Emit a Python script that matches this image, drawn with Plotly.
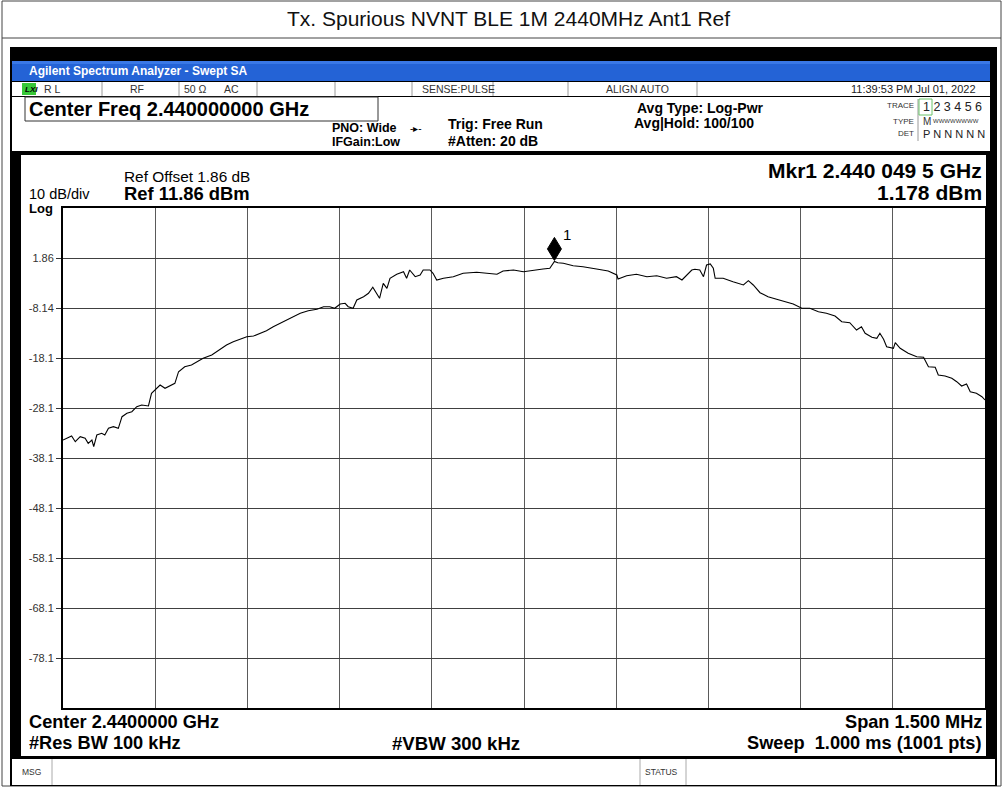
import plotly.graph_objects as go

W, H = 1003, 787

# ---------------- data ----------------
center_ghz = 2.44
span_khz = 1500.0
ref_level_dbm = 11.86
db_per_div = 10.0
n_div = 10

freq_offset_khz = [
    -750, -736, -730, -722, -714, -709, -703, -700, -695, -687,
    -682, -676, -668, -660, -654, -646, -638, -630, -622, -611,
    -606, -598, -592, -584, -576, -568, -562, -552, -541, -532,
    -522, -508, -495, -484, -473, -462, -451, -440, -430, -419,
    -408, -397, -386, -375, -364, -351, -337, -326, -316, -308,
    -299, -291, -286, -278, -272, -261, -253, -246, -240, -235,
    -229, -223, -218, -207, -196, -191, -186, -177, -169, -164,
    -153, -148, -142, -131, -115, -99, -77, -61, -44, -34,
    -17, -1, 15, 31, 42, 49.5, 55, 64, 80, 96,
    118, 137, 151, 153, 167, 183, 200, 216, 232, 248,
    257, 265, 273, 278, 286, 292, 297, 303, 308, 311,
    324, 340, 357, 365, 373, 384, 397, 411, 425, 438,
    452, 465, 479, 492, 506, 517, 530, 541, 549, 555,
    566, 574, 579, 585, 590, 601, 604, 612, 625, 639,
    650, 658, 669, 674, 685, 696, 704, 712, 720, 726,
    736, 745, 750,
]
level_dbm = [
    -34.54, -33.74, -34.88, -33.88, -34.20, -35.20, -34.54, -35.88, -33.54, -33.20,
    -33.54, -32.20, -31.88, -32.20, -29.88, -29.20, -28.88, -27.88, -27.54, -27.74,
    -25.20, -24.20, -23.54, -24.20, -23.74, -23.20, -20.88, -19.88, -19.54, -18.88,
    -18.20, -17.54, -16.54, -15.54, -14.88, -14.40, -13.88, -13.74, -13.20, -12.68,
    -11.88, -11.20, -10.40, -9.88, -9.20, -8.68, -8.40, -7.88, -7.88, -8.20,
    -7.34, -7.20, -7.88, -8.20, -6.54, -5.88, -5.20, -4.00, -5.20, -6.20,
    -3.20, -4.20, -2.20, -1.40, -0.88, -2.20, -0.54, -1.88, -1.54, -0.54,
    -0.54, -1.20, -2.54, -2.20, -1.88, -1.20, -1.00, -1.20, -1.40, -0.74,
    -0.54, -0.88, -0.54, -0.34, -0.20, 1.178, 0.90, 0.80, 0.32, 0.12,
    -0.34, -0.74, -1.54, -2.34, -1.68, -1.40, -1.88, -1.68, -2.20, -1.88,
    -2.54, -1.54, -0.54, -0.40, -0.54, -1.88, 0.46, 0.66, -0.20, -2.20,
    -2.20, -2.88, -3.54, -2.68, -3.54, -5.08, -5.88, -6.40, -6.88, -7.34,
    -8.20, -8.20, -8.88, -9.20, -9.74, -10.88, -11.08, -12.54, -11.88, -13.20,
    -14.00, -14.20, -13.20, -14.40, -15.88, -16.20, -15.08, -16.20, -17.20, -17.88,
    -18.00, -19.88, -20.00, -21.54, -21.74, -22.20, -22.88, -23.74, -23.34, -24.88,
    -25.20, -25.88, -26.54,
]

x_grid_khz = [-750, -600, -450, -300, -150, 0, 150, 300, 450, 600, 750]
y_tick_vals = [1.86, -8.14, -18.14, -28.14, -38.14, -48.14, -58.14, -68.14, -78.14]
y_tick_text = ["1.86", "-8.14", "-18.1", "-28.1", "-38.1", "-48.1", "-58.1", "-68.1", "-78.1"]

mkr_offset_khz = 49.5
mkr_level_dbm = 1.178

title_text = "Tx. Spurious NVNT BLE 1M 2440MHz Ant1 Ref"

FONT = "Liberation Sans, Arial, sans-serif"

# ---------------- helpers (pixel -> paper) ----------------
def px(x):
    return x / W


def py(y):
    return 1 - y / H


shapes = []
annotations = []


def rect(x0, y0, x1, y1, fill=None, line=None, lw=1, layer="below"):
    shapes.append(dict(
        type="rect", xref="paper", yref="paper",
        x0=px(x0), x1=px(x1), y0=py(y1), y1=py(y0),
        fillcolor=fill if fill else "rgba(0,0,0,0)",
        line=dict(color=line if line else "rgba(0,0,0,0)", width=lw if line else 0),
        layer=layer,
    ))


def seg(x0, y0, x1, y1, color="#999", lw=1, layer="below"):
    shapes.append(dict(
        type="line", xref="paper", yref="paper",
        x0=px(x0), x1=px(x1), y0=py(y0), y1=py(y1),
        line=dict(color=color, width=lw), layer=layer,
    ))


def txt(x, y, s, size, bold=False, anchor="left", color="black", family=FONT, italic=False):
    if bold:
        s = "<b>" + s + "</b>"
    if italic:
        s = "<i>" + s + "</i>"
    annotations.append(dict(
        x=px(x), y=py(y), xref="paper", yref="paper", text=s, showarrow=False,
        xanchor=anchor, yanchor="middle",
        font=dict(size=size, color=color, family=family),
    ))


# ---------------- frame / title ----------------
rect(2, 1, 1001, 786, line="#444", lw=1)
seg(2, 38, 1001, 38, color="#444", lw=1)
txt(508, 19, title_text, 21, anchor="center", color="#111")

# analyzer screenshot frame
rect(10, 47, 997, 786, fill="#000000")
rect(12, 61, 990, 81, fill="#2463d6")
rect(12, 61, 990, 64, fill="#3a78e6")
txt(27, 71, "Agilent Spectrum Analyzer - Swept SA", 12, bold=True, color="white")

# status row
rect(12, 82, 990, 96, fill="white")
rect(22, 83, 36, 95, fill="#38c838")
txt(23, 89, "LXI", 8, bold=True, italic=True, color="black")
for xs in [102, 179, 257, 335, 412, 493, 568, 697]:
    seg(xs, 82, xs, 96, color="#9a9a9a")
txt(42, 89, "R L", 10.5, color="#333")
txt(128, 89, "RF", 10.5, color="#333")
txt(182, 89, "50 Ω", 10.5, color="#333")
txt(222, 89, "AC", 10.5, color="#333")
txt(420, 89, "SENSE:PULSE", 10.5, color="#333")
txt(604, 89, "ALIGN AUTO", 10.5, color="#333")
txt(978, 89, "11:39:53 PM Jul 01, 2022", 11, anchor="right", color="#222")

# header
rect(12, 97, 990, 151, fill="white")
rect(25, 97, 378, 121, fill="white", line="#333", lw=1)
txt(27, 109, "Center Freq 2.440000000 GHz", 20, bold=True)
txt(330, 128, "PNO: Wide", 12.5, bold=True)
txt(330, 142, "IFGain:Low", 12.5, bold=True)
txt(408, 128, "-▸-", 10)
txt(446, 124, "Trig: Free Run", 14, bold=True)
txt(446, 141, "#Atten: 20 dB", 14, bold=True)
txt(635, 108, "Avg Type: Log-Pwr", 14, bold=True)
txt(632, 123, "Avg|Hold: 100/100", 14, bold=True)
seg(918, 99, 918, 141, color="#9a9a9a")
rect(919, 99, 932, 115, line="#6ac46a", lw=1)
txt(916, 106, "TRACE", 8, anchor="right", color="#333")
txt(921, 107, "1 2 3 4 5 6", 12.5, color="#222")
txt(916, 121, "TYPE", 8, anchor="right", color="#333")
txt(921, 121, "M", 10, color="#333")
txt(931, 121, "WWWWWWWW", 6, color="#333")
txt(916, 134, "DET", 8, anchor="right", color="#333")
txt(921, 134, "P N N N N N", 11, color="#222")

# main panel
rect(21, 155, 986, 756, fill="white")
txt(122, 177, "Ref Offset 1.86 dB", 15.4)
txt(122, 194, "Ref 11.86 dBm", 18.4, bold=True)
txt(27, 194, "10 dB/div", 14.5)
txt(27, 208, "Log", 13, bold=True)
txt(984, 171, "Mkr1 2.440 049 5 GHz", 21, bold=True, anchor="right")
txt(984, 192, "1.178 dBm", 21, bold=True, anchor="right")
txt(27, 722, "Center 2.4400000 GHz", 18.2, bold=True)
txt(27, 743, "#Res BW 100 kHz", 18.2, bold=True)
txt(390, 743, "#VBW 300 kHz", 18.6, bold=True)
txt(984, 722, "Span 1.500 MHz", 18.2, bold=True, anchor="right")
txt(984, 743, "Sweep  1.000 ms (1001 pts)", 18.2, bold=True, anchor="right")

# message bar
rect(12, 759, 995, 785, fill="white")
seg(52, 759, 52, 785, color="#aaa")
seg(640, 759, 640, 785, color="#aaa")
seg(686, 759, 686, 785, color="#aaa")
txt(20, 772, "MSG", 8.5, color="#333")
txt(643, 772, "STATUS", 8.5, color="#333")

# marker diamond (pixel-sized shape anchored at marker data point)
shapes.append(dict(
    type="path", xref="x", yref="y",
    xsizemode="pixel", ysizemode="pixel",
    xanchor=mkr_offset_khz, yanchor=mkr_level_dbm,
    path="M 0 1 L 7 12.5 L 0 24 L -7 12.5 Z",
    fillcolor="black", line=dict(color="black", width=1), layer="above",
))
annotations.append(dict(
    x=mkr_offset_khz, y=mkr_level_dbm, xref="x", yref="y", text="1", showarrow=False,
    xanchor="left", yanchor="middle", xshift=7, yshift=27,
    font=dict(size=15, color="black", family=FONT),
))

# ---------------- figure ----------------
fig = go.Figure()
fig.add_trace(go.Scatter(
    x=freq_offset_khz, y=level_dbm, mode="lines",
    line=dict(color="black", width=1.1), hoverinfo="skip", showlegend=False,
))

fig.update_layout(
    width=W, height=H, autosize=False,
    margin=dict(l=0, r=0, t=0, b=0),
    paper_bgcolor="white", plot_bgcolor="white",
    shapes=shapes, annotations=annotations,
    showlegend=False,
    xaxis=dict(
        domain=[px(63), px(985)],
        range=[-span_khz / 2, span_khz / 2],
        tickvals=x_grid_khz, showticklabels=False, ticks="",
        showgrid=True, gridcolor="#5a5a5a", gridwidth=1,
        zeroline=False, showline=True, mirror=True, linecolor="black", linewidth=2,
        fixedrange=True,
    ),
    yaxis=dict(
        domain=[py(708), py(208)],
        range=[ref_level_dbm - n_div * db_per_div, ref_level_dbm],
        tickvals=y_tick_vals, ticktext=y_tick_text,
        ticks="outside", ticklen=5, tickcolor="#333", tickwidth=1,
        tickfont=dict(size=11, color="#333", family=FONT),
        showgrid=True, gridcolor="#404040", gridwidth=1,
        zeroline=False, showline=True, mirror=True, linecolor="black", linewidth=2,
        fixedrange=True,
    ),
)

fig.write_html(
    "out.html",
    config={"displayModeBar": False},
    post_script="document.body.style.margin='0';document.body.style.overflow='hidden';",
)
